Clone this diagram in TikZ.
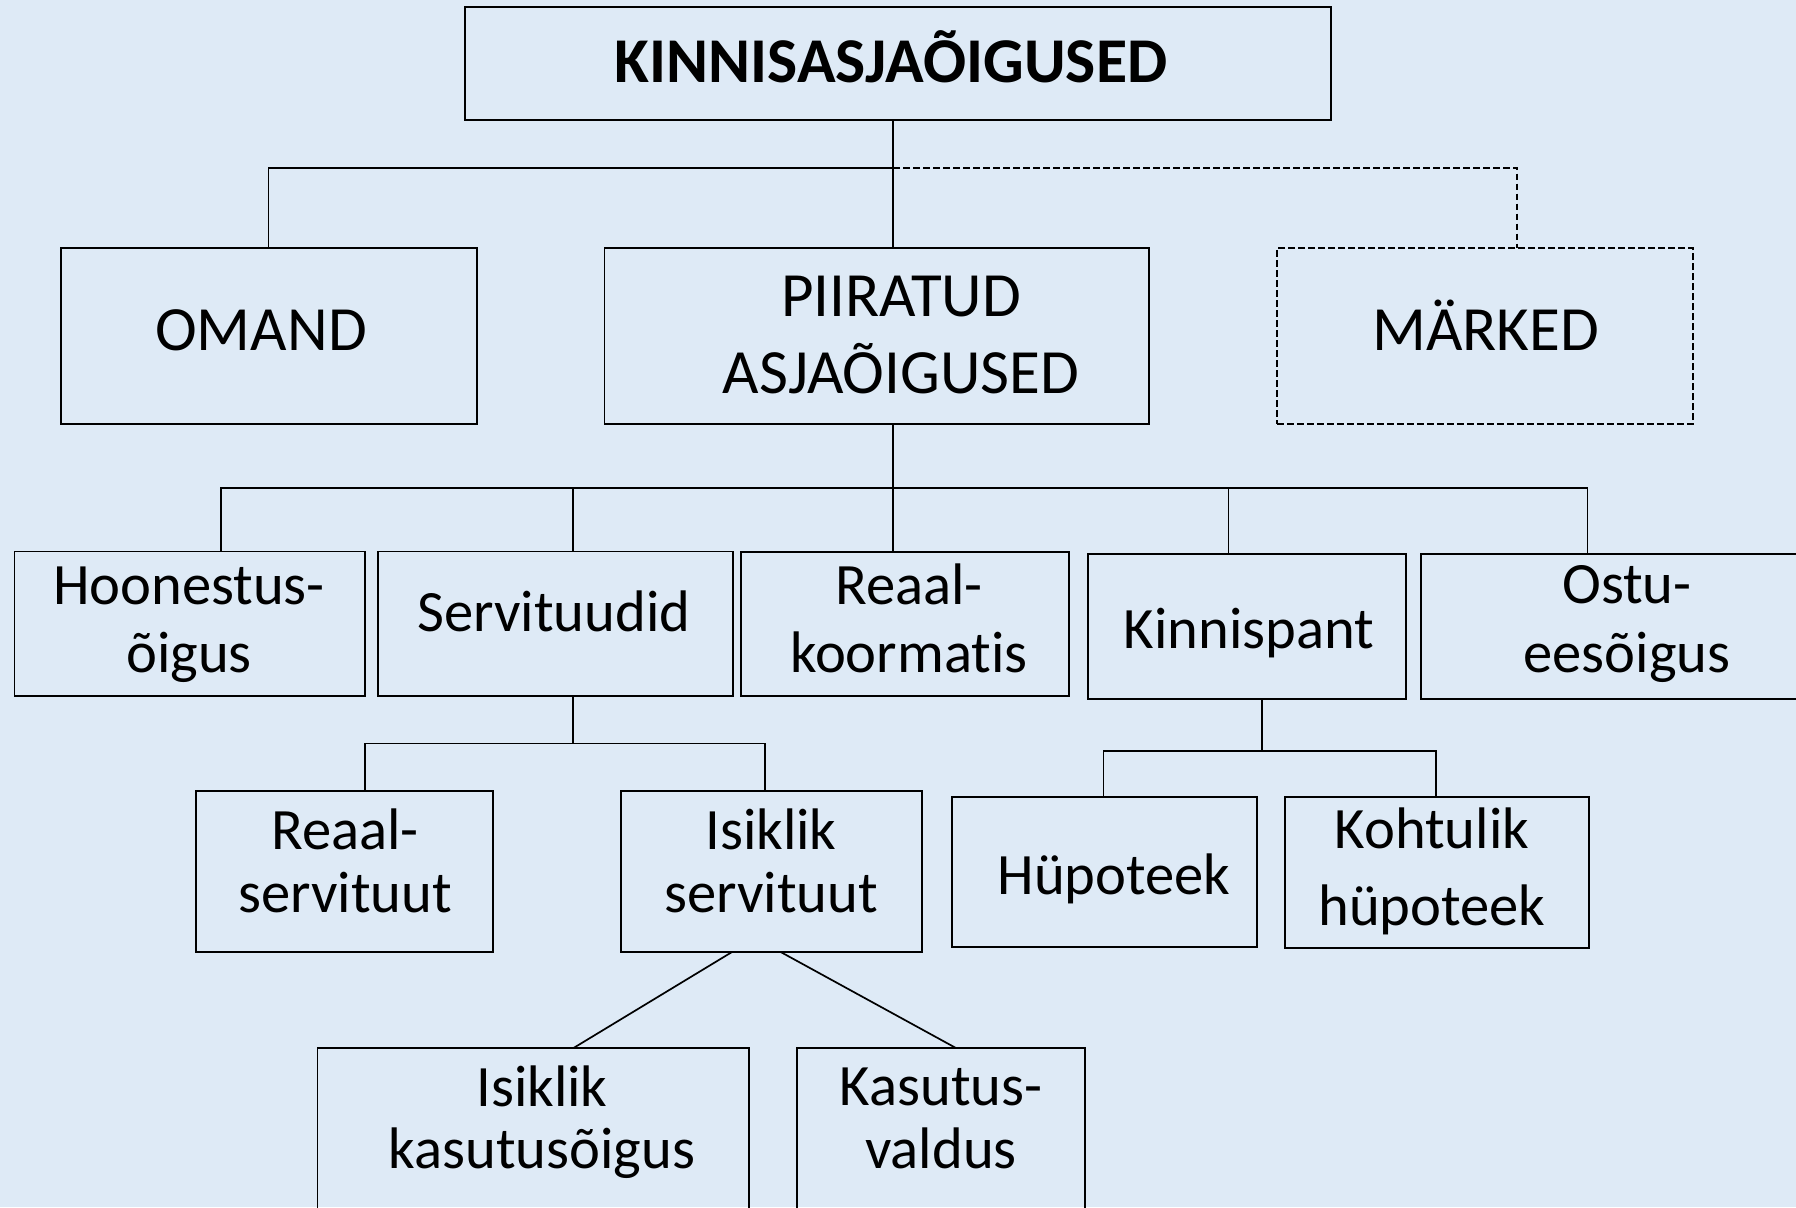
\documentclass[tikz,border=0pt]{standalone}
\usepackage{fontspec}
\setmainfont{Carlito}[Ligatures=NoCommon]
\usetikzlibrary{fit}
\definecolor{bgblue}{RGB}{222,234,246}
\begin{document}
\begin{tikzpicture}[x=0.5pt,y=-0.5pt,
  box/.style={draw=black, line width=0.9pt, inner sep=0pt, outer sep=0pt},
  titlebox/.style={box, line width=1.1pt},
  notebox/.style={box, dash pattern=on 3.3pt off 1.7pt},
  link/.style={draw=black, line width=0.85pt},
  notelink/.style={link, dash pattern=on 3.3pt off 1.7pt},
  txt/.style={inner sep=0pt, anchor=base, align=center, text=black},
  headtxt/.style={txt, font=\fontsize{31.9}{38}\selectfont\bfseries},
  bigtxt/.style={txt, font=\fontsize{31.5}{#1}\selectfont},
  bigtxt/.default=38.2pt,
  smalltxt/.style={txt, font=\fontsize{29.3}{#1}\selectfont},
  smalltxt/.default=34pt]

\useasboundingbox (0,0) rectangle (1796,1207);
\fill[bgblue] (0,0) rectangle (1796,1207);
\clip (0,0) rectangle (1796,1207);

% boxes
\node[titlebox, fit={(465,7) (1331,120)}] (title) {};
\node[box, fit={(61,248) (477,424)}] (omand) {};
\node[box, fit={(604.5,248) (1149,424)}] (piir) {};
\node[notebox, fit={(1277,248) (1693,424)}] (mark) {};

\node[box, fit={(14.4,551.4) (365,696)}] (hoon) {};
\node[box, fit={(378,551.4) (733,696)}] (serv) {};
\node[box, fit={(741,552) (1068.6,696)}] (reaalk) {};
\node[box, fit={(1088,554) (1406,698.6)}] (kinn) {};
\node[box, fit={(1420.6,554) (1810,698.6)}] (ostu) {};

\node[box, fit={(196,791) (493,952)}] (rserv) {};
\node[box, fit={(620.6,791) (922,952)}] (iserv) {};
\node[box, fit={(952,796.6) (1256.6,947.3)}] (hyp) {};
\node[box, fit={(1285,796.6) (1589,948)}] (khyp) {};

\node[box, fit={(317.5,1047.7) (749,1230)}] (ikas) {};
\node[box, fit={(797,1047.7) (1084.6,1230)}] (kval) {};

% labels (two-line labels are anchored at the baseline of their last line)
\node[headtxt] (titletxt) at (891,82.7) {KINNISASJAÕIGUSED};
\node[bigtxt] (omandtxt) at (261,350) {OMAND};
\node[bigtxt=38.2pt] (piirtxt) at (901,393) {PIIRATUD\\ASJAÕIGUSED};
\node[bigtxt] (marktxt) at (1485.6,350) {MÄRKED};

\node[smalltxt=33.8pt] (hoontxt) at (189,672) {Hoonestus-\\õigus};
\node[smalltxt] (servtxt) at (554,631) {Servituudid};
\node[smalltxt=34pt] (reaalktxt) at (909,672) {Reaal-\\koormatis};
\node[smalltxt] (kinntxt) at (1249,648) {Kinnispant};
\node[smalltxt=34.3pt] (ostutxt) at (1627,672) {Ostu-\\eesõigus};

\node[smalltxt=31.4pt] (rservtxt) at (345,912.5) {Reaal-\\servituut};
\node[smalltxt=31.4pt] (iservtxt) at (771,912.5) {Isiklik\\servituut};
\node[smalltxt] (hyptxt) at (1114,894) {Hüpoteek};
\node[smalltxt=38.5pt] (khyptxt) at (1432,925.5) {Kohtulik\\hüpoteek};

\node[smalltxt=31pt] (ikastxt) at (542,1168.3) {Isiklik\\kasutusõigus};
\node[smalltxt=31.5pt] (kvaltxt) at (941,1168) {Kasutus-\\valdus};

% first level
\coordinate (j0) at (893,167.7);
\coordinate (jo) at (268.6,167.7);
\coordinate (jm) at (1517,167.7);
\draw[link] (title.south -| j0) -- (piir.north -| j0);
\draw[link] (omand.north -| jo) -- (jo) -- (j0);
\draw[notelink] (j0) -- (jm) -- (mark.north -| jm);

% second level
\coordinate (j1) at (893,487.7);
\coordinate (d1) at (221,487.7);
\coordinate (d2) at (573,487.7);
\coordinate (d4) at (1228.6,487.7);
\coordinate (d5) at (1587.4,487.7);
\draw[link] (piir.south -| j1) -- (reaalk.north -| j1);
\draw[link] (hoon.north -| d1) -- (d1) -- (d5) -- (ostu.north -| d5);
\draw[link] (d2) -- (serv.north -| d2);
\draw[link] (d4) -- (kinn.north -| d4);

% servitudes
\coordinate (s0) at (573,743.5);
\coordinate (s1) at (365,743.5);
\coordinate (s2) at (765,743.5);
\draw[link] (serv.south -| s0) -- (s0);
\draw[link] (rserv.north -| s1) -- (s1) -- (s2) -- (iserv.north -| s2);

% mortgages
\coordinate (k0) at (1261.7,751.3);
\coordinate (k1) at (1103.4,751.3);
\coordinate (k2) at (1436,751.3);
\draw[link] (kinn.south -| k0) -- (k0);
\draw[link] (hyp.north -| k1) -- (k1) -- (k2) -- (khyp.north -| k2);

% personal servitudes
\coordinate (i1) at (732,0);
\coordinate (i2) at (780.7,0);
\coordinate (o1) at (574,0);
\coordinate (o2) at (955.4,0);
\draw[link] (iserv.south -| i1) -- (ikas.north -| o1);
\draw[link] (iserv.south -| i2) -- (kval.north -| o2);
\end{tikzpicture}
\end{document}
